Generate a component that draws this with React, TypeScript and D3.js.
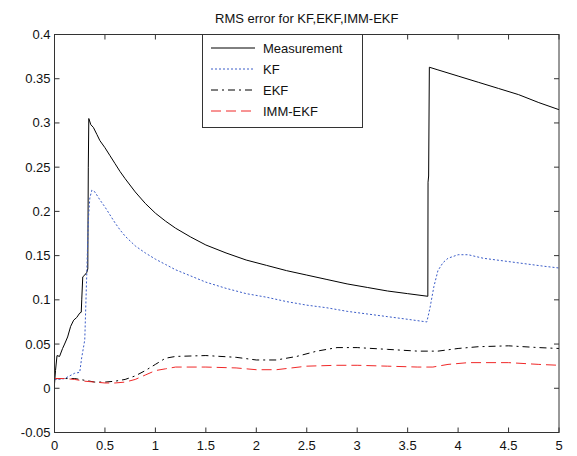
import React from "react";
import * as d3 from "d3";

const xTicks = [0, 0.5, 1, 1.5, 2, 2.5, 3, 3.5, 4, 4.5, 5];
const yTicks = [-0.05, 0, 0.05, 0.1, 0.15, 0.2, 0.25, 0.3, 0.35, 0.4];

const measT = [0, 0.01, 0.025, 0.05, 0.08, 0.1, 0.13, 0.16, 0.19, 0.22, 0.25, 0.265, 0.27, 0.28, 0.3, 0.32, 0.33, 0.335, 0.34, 0.36, 0.385, 0.42, 0.45, 0.5, 0.55, 0.6, 0.65, 0.7, 0.8, 0.9, 1.0, 1.1, 1.2, 1.35, 1.5, 1.7, 1.9, 2.1, 2.3, 2.5, 2.7, 2.9, 3.1, 3.3, 3.5, 3.7, 3.702, 3.708, 3.715, 3.8, 4.0, 4.2, 4.4, 4.6, 4.8, 5.0];
const measV = [0.005, 0.02, 0.037, 0.036, 0.045, 0.05, 0.058, 0.07, 0.077, 0.08, 0.085, 0.086, 0.1, 0.126, 0.128, 0.131, 0.135, 0.25, 0.305, 0.298, 0.295, 0.287, 0.28, 0.272, 0.263, 0.254, 0.245, 0.237, 0.222, 0.209, 0.198, 0.189, 0.181, 0.171, 0.162, 0.153, 0.145, 0.139, 0.133, 0.128, 0.123, 0.118, 0.114, 0.11, 0.107, 0.104, 0.233, 0.24, 0.363, 0.36, 0.353, 0.346, 0.339, 0.332, 0.323, 0.315];

const kfT = [0, 0.05, 0.1, 0.15, 0.2, 0.25, 0.27, 0.29, 0.3, 0.32, 0.335, 0.35, 0.37, 0.4, 0.45, 0.5, 0.55, 0.6, 0.65, 0.7, 0.8, 0.9, 1.0, 1.1, 1.2, 1.35, 1.5, 1.7, 1.9, 2.1, 2.3, 2.5, 2.7, 2.9, 3.1, 3.3, 3.5, 3.69, 3.72, 3.76, 3.8, 3.85, 3.9, 4.0, 4.1, 4.25, 4.45, 4.65, 4.85, 5.0];
const kfV = [0.01, 0.01, 0.011, 0.014, 0.017, 0.018, 0.035, 0.048, 0.055, 0.13, 0.19, 0.215, 0.224, 0.222, 0.213, 0.205, 0.196, 0.187, 0.179, 0.172, 0.161, 0.153, 0.146, 0.14, 0.134, 0.127, 0.12, 0.113, 0.107, 0.103, 0.098, 0.094, 0.091, 0.087, 0.084, 0.081, 0.078, 0.075, 0.09, 0.115, 0.133, 0.142, 0.147, 0.151, 0.151, 0.147, 0.144, 0.141, 0.138, 0.136];

const ekfT = [0, 0.1, 0.2, 0.3, 0.4, 0.5, 0.6, 0.7, 0.8, 0.9, 1.0, 1.1, 1.2, 1.5, 1.8, 2.0, 2.2, 2.4, 2.6, 2.8, 3.0, 3.3, 3.6, 3.8, 4.0, 4.2, 4.5, 4.8, 5.0];
const ekfV = [0.011, 0.011, 0.011, 0.009, 0.007, 0.007, 0.008, 0.01, 0.014, 0.02, 0.027, 0.034, 0.036, 0.037, 0.035, 0.032, 0.032, 0.036, 0.042, 0.046, 0.046, 0.044, 0.042, 0.042, 0.045, 0.047, 0.048, 0.046, 0.045];

const immT = [0, 0.1, 0.2, 0.3, 0.4, 0.5, 0.6, 0.7, 0.8, 0.9, 1.0, 1.1, 1.2, 1.5, 1.8, 2.0, 2.2, 2.5, 2.8, 3.0, 3.3, 3.6, 3.75, 3.9, 4.1, 4.5, 4.8, 5.0];
const immV = [0.011, 0.011, 0.01, 0.008, 0.007, 0.006, 0.006, 0.007, 0.01, 0.015, 0.02, 0.022, 0.024, 0.024, 0.023, 0.021, 0.021, 0.025, 0.026, 0.026, 0.025, 0.024, 0.024, 0.027, 0.029, 0.029, 0.027, 0.026];

const seriesNames = ["Measurement", "KF", "EKF", "IMM-EKF"];

const W = 577, H = 456;
const L = 54.5, R = 559, T = 34.5, B = 432.5;
const FONT = "'Liberation Sans', Arial, sans-serif";

export default function App() {
  const x = d3.scaleLinear().domain([0, 5]).range([L, R]);
  const y = d3.scaleLinear().domain([-0.05, 0.4]).range([B, T]);
  const line = d3.line<[number, number]>().x(d => x(d[0])).y(d => y(d[1]));
  const mk = (ts: number[], vs: number[]) => line(ts.map((t, i) => [t, vs[i]] as [number, number])) || "";

  const styles = [
    { color: "#000", dash: "none", w: 1 },
    { color: "#3a5cc8", dash: "2,2", w: 1 },
    { color: "#000", dash: "7,4,2,4", w: 1 },
    { color: "#f02828", dash: "10,5", w: 1 },
  ];
  const paths = [mk(measT, measV), mk(kfT, kfV), mk(ekfT, ekfV), mk(immT, immV)];

  const legX = 202.5, legY = 34.5, legW = 160, legH = 93;
  const tickLen = 5;

  return (
    <svg width={W} height={H} style={{ position: "absolute", left: 0, top: 0, background: "#fff" }} fontFamily={FONT}>
      <rect x={0} y={0} width={W} height={H} fill="#fff" />
      <text x={(L + R) / 2} y={23} textAnchor="middle" fontSize={13} fill="#111">RMS error for KF,EKF,IMM-EKF</text>
      <g>
        {paths.map((p, i) => (
          <path key={i} d={p} fill="none" stroke={styles[i].color} strokeWidth={styles[i].w} strokeDasharray={styles[i].dash} />
        ))}
      </g>
      <rect x={L} y={T} width={R - L} height={B - T} fill="none" stroke="#333" strokeWidth={1} />
      {xTicks.map((t, i) => (
        <g key={"xt" + i}>
          <line x1={x(t)} x2={x(t)} y1={B} y2={B - tickLen} stroke="#333" />
          <line x1={x(t)} x2={x(t)} y1={T} y2={T + tickLen} stroke="#333" />
          <text x={x(t)} y={450} textAnchor="middle" fontSize={13} fill="#111">{String(t)}</text>
        </g>
      ))}
      {yTicks.map((v, i) => (
        <g key={"yt" + i}>
          <line x1={L} x2={L + tickLen} y1={y(v)} y2={y(v)} stroke="#333" />
          <line x1={R} x2={R - tickLen} y1={y(v)} y2={y(v)} stroke="#333" />
          <text x={L - 4} y={y(v) + 4.5} textAnchor="end" fontSize={13} fill="#111">{String(v)}</text>
        </g>
      ))}
      <g>
        <rect x={legX} y={legY} width={legW} height={legH} fill="#fff" stroke="#333" />
        {seriesNames.map((n, i) => {
          const ly = 48 + i * 21;
          return (
            <g key={n}>
              <line x1={211} x2={255} y1={ly} y2={ly} stroke={styles[i].color} strokeDasharray={styles[i].dash} />
              <text x={263} y={ly + 4.5} fontSize={13} fill="#111">{n}</text>
            </g>
          );
        })}
      </g>
    </svg>
  );
}
